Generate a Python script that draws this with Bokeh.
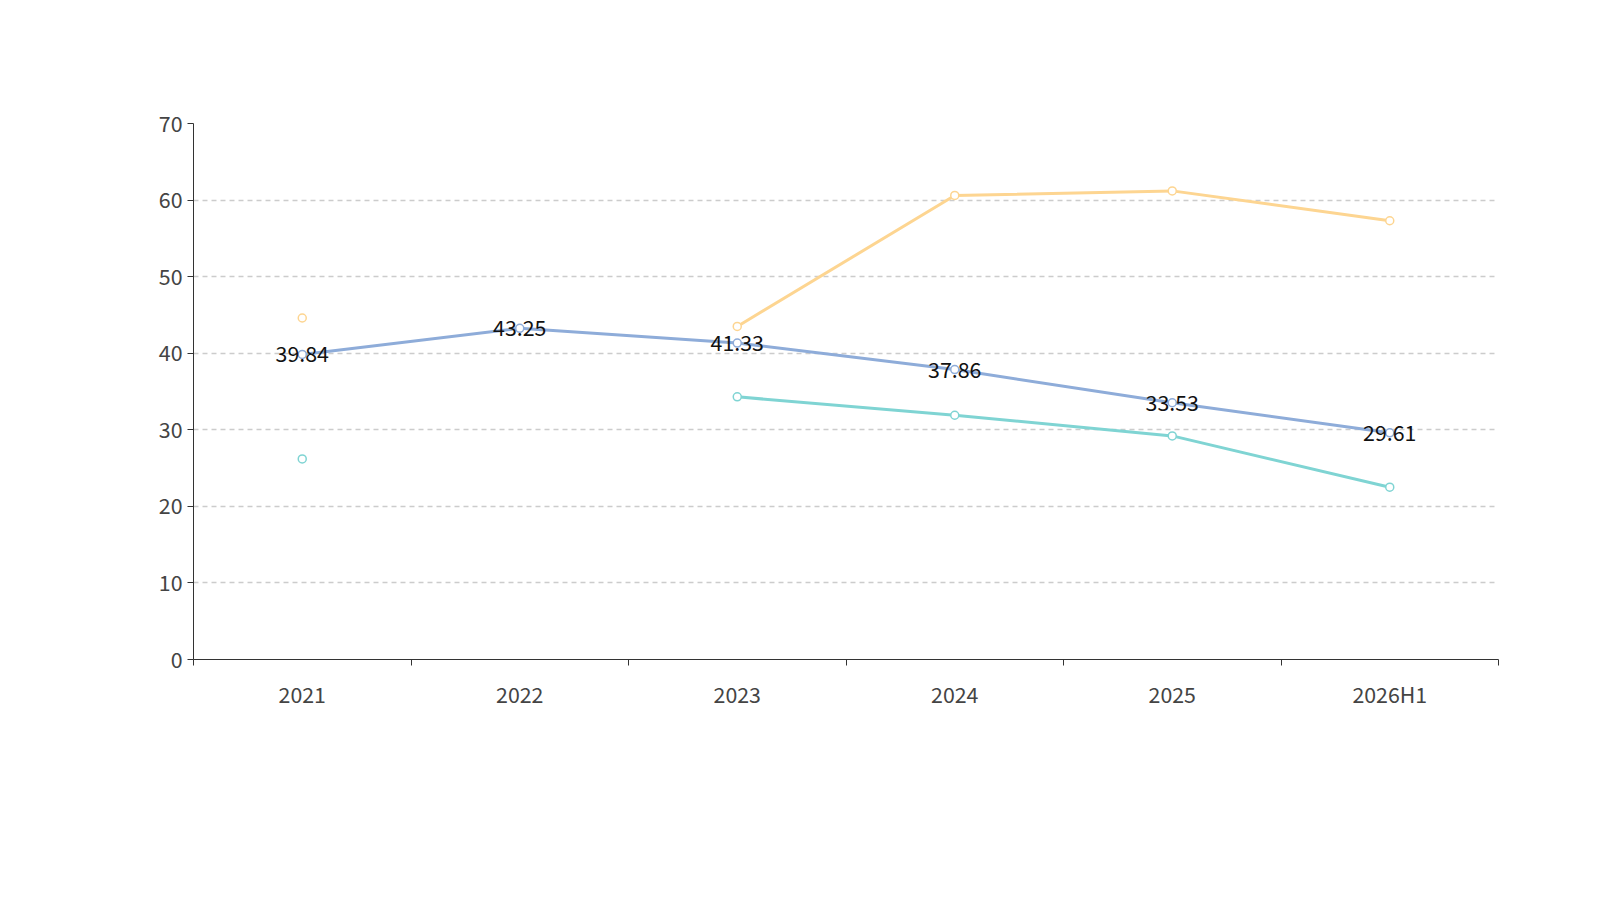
import numpy as np
from bokeh.plotting import figure
from bokeh.models import FixedTicker, Legend, LegendItem, Label, ColumnDataSource
from bokeh.core.properties import value
from bokeh.embed import file_html
from bokeh.resources import INLINE

years = ["2021", "2022", "2023", "2024", "2025", "2026H1"]
net_equip = [39.84, 43.25, 41.33, 37.86, 33.53, 29.61]
net_security = [44.6, np.nan, 43.5, 60.6, 61.2, 57.3]
cloud_desktop = [26.2, np.nan, 34.3, 31.9, 29.2, 22.5]
names = ["网络设备", "网络安全产品", "云桌面解决方案"]
colors = ["#8eacd9", "#fdd591", "#7fd4d3"]
FONT = "Noto Sans CJK SC"

xs = [i + 0.5 for i in range(len(years))]

p = figure(width=1560, height=885, x_range=(0, 6), y_range=(0, 70),
           output_backend="svg", toolbar_location=None,
           min_border_left=193, min_border_right=62, min_border_top=123, min_border_bottom=226)
p.outline_line_color = None
p.background_fill_color = "white"

p.xaxis.ticker = FixedTicker(ticks=xs, minor_ticks=list(range(7)))
p.xaxis.major_label_overrides = {x: y for x, y in zip(xs, years)}
p.xaxis.major_tick_out = 0
p.xaxis.major_tick_in = 0
p.xaxis.minor_tick_out = 6
p.xaxis.minor_tick_in = 0
p.yaxis.ticker = FixedTicker(ticks=list(range(0, 71, 10)))
p.yaxis.major_tick_out = 6
p.yaxis.major_tick_in = 0
for ax in (p.xaxis, p.yaxis):
    ax.axis_line_color = "#333333"
    ax.major_tick_line_color = "#333333"
    ax.minor_tick_line_color = "#333333"
    ax.major_label_text_font = FONT
    ax.major_label_text_font_size = "16pt"
    ax.major_label_text_color = "#444444"
p.yaxis.minor_tick_line_color = None
p.xaxis.major_label_standoff = 12
p.xgrid.grid_line_color = None
p.ygrid.grid_line_color = "#cccccc"
p.ygrid.grid_line_dash = "5 4"
p.ygrid.grid_line_width = 1.3

items = []
for name, vals, c in zip(names, [net_equip, net_security, cloud_desktop], colors):
    src = ColumnDataSource(dict(x=xs, y=vals))
    l = p.line("x", "y", source=src, line_color=c, line_width=3)
    s = p.scatter("x", "y", source=src, size=8, fill_color="white", line_color=c, line_width=1.5)
    items.append(LegendItem(label=name, renderers=[l, s]))

p.text(x=xs, y=net_equip, text=[f"{v:.2f}" for v in net_equip], text_align="center",
       text_baseline="middle", text_font=value(FONT), text_font_size="16pt", text_color="#111111")

leg = Legend(items=items, orientation="horizontal", location=(270, -135),
             label_text_font=FONT, label_text_font_size="17pt", label_text_color="#333333",
             glyph_width=45, glyph_height=24, spacing=20, border_line_color=None,
             background_fill_alpha=0, margin=0, padding=5)
p.add_layout(leg, "center")

p.add_layout(Label(x=3, y=84.2, text="近年来部分主要产品毛利率情况（%）", text_align="center",
                   text_baseline="middle", text_font=FONT, text_font_size="20pt",
                   text_font_style="bold", text_color="#333333"))
p.add_layout(Label(x=3, y=-26.8, text="制图数据来自恒生聚源数据库", text_align="center",
                   text_baseline="middle", text_font=FONT, text_font_size="13pt",
                   text_color="#c8861e"))

open("out.html", "w").write(file_html(p, INLINE))
